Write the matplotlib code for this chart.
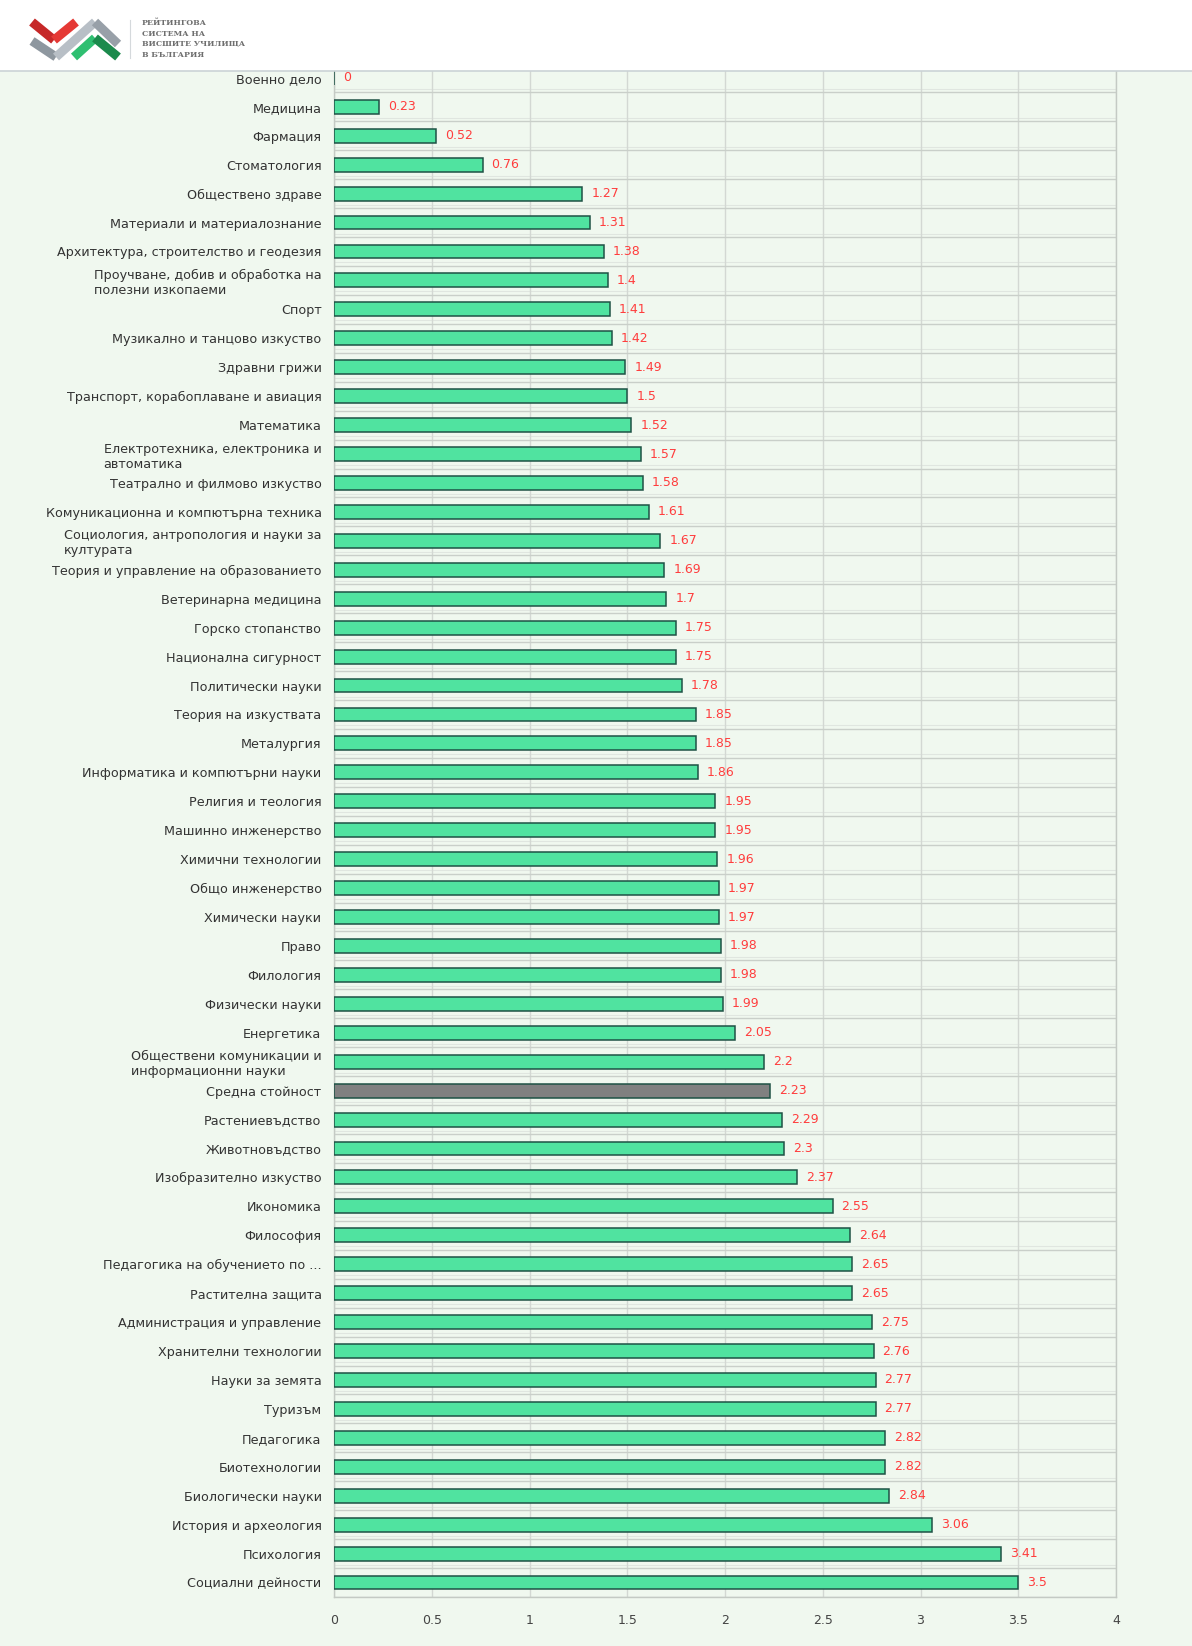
import matplotlib
matplotlib.use('Agg')
from matplotlib import pyplot as plt
from matplotlib.ticker import FixedLocator

# data
categories = [
    'Военно дело', 'Медицина', 'Фармация', 'Стоматология', 'Обществено здраве',
    'Материали и материалознание', 'Архитектура, строителство и геодезия',
    'Проучване, добив и обработка на\nполезни изкопаеми', 'Спорт',
    'Музикално и танцово изкуство', 'Здравни грижи',
    'Транспорт, корабоплаване и авиация', 'Математика',
    'Електротехника, електроника и\nавтоматика', 'Театрално и филмово изкуство',
    'Комуникационна и компютърна техника',
    'Социология, антропология и науки за\nкултурата',
    'Теория и управление на образованието', 'Ветеринарна медицина',
    'Горско стопанство', 'Национална сигурност', 'Политически науки',
    'Теория на изкуствата', 'Металургия', 'Информатика и компютърни науки',
    'Религия и теология', 'Машинно инженерство', 'Химични технологии',
    'Общо инженерство', 'Химически науки', 'Право', 'Филология',
    'Физически науки', 'Енергетика',
    'Обществени комуникации и\nинформационни науки', 'Средна стойност',
    'Растениевъдство', 'Животновъдство', 'Изобразително изкуство', 'Икономика',
    'Философия', 'Педагогика на обучението по ...', 'Растителна защита',
    'Администрация и управление', 'Хранителни технологии', 'Науки за земята',
    'Туризъм', 'Педагогика', 'Биотехнологии', 'Биологически науки',
    'История и археология', 'Психология', 'Социални дейности',
]
values = [
    0, 0.23, 0.52, 0.76, 1.27, 1.31, 1.38, 1.4, 1.41, 1.42, 1.49, 1.5, 1.52,
    1.57, 1.58, 1.61, 1.67, 1.69, 1.7, 1.75, 1.75, 1.78, 1.85, 1.85, 1.86,
    1.95, 1.95, 1.96, 1.97, 1.97, 1.98, 1.98, 1.99, 2.05, 2.2, 2.23, 2.29,
    2.3, 2.37, 2.55, 2.64, 2.65, 2.65, 2.75, 2.76, 2.77, 2.77, 2.82, 2.82,
    2.84, 3.06, 3.41, 3.5,
]
average_label = 'Средна стойност'
x_ticks = [0, 0.5, 1, 1.5, 2, 2.5, 3, 3.5, 4]
x_tick_labels = ['0', '0.5', '1', '1.5', '2', '2.5', '3', '3.5', '4']
logo_lines = ['РЕЙТИНГОВА', 'СИСТЕМА НА', 'ВИСШИТЕ УЧИЛИЩА', 'В БЪЛГАРИЯ']

W, H = 1192, 1646
bg = '#f0f8ef'
plt.rcParams['font.family'] = ['DejaVu Sans']

fig = plt.figure(figsize=(W / 100, H / 100), dpi=100, facecolor=bg)

# main chart, top part hidden under the header like in the page
left, right, top, bottom = 334, 1116, 63.4, 1597
ax = fig.add_axes([left / W, 1 - bottom / H, (right - left) / W, (bottom - top) / H])
ax.set_facecolor(bg)

n = len(categories)
ypos = list(range(n))
colors = ['#808080' if c == average_label else '#50e3a0' for c in categories]
ax.barh(ypos, values, height=0.48, color=colors, edgecolor='#1e5245',
        linewidth=1.1, zorder=3)

for i, v in enumerate(values):
    ax.annotate(f'{v:g}', xy=(v, i), xytext=(6.5, 0), textcoords='offset points',
                ha='left', va='center', color='#ff3d3d', fontsize=9)

ax.set_xlim(0, 4)
ax.set_ylim(n - 0.5, -0.5)
ax.set_yticks(ypos)
ax.set_yticklabels(categories, fontsize=9.2, color='#333333', multialignment='left')
ax.set_xticks(x_ticks)
ax.set_xticklabels(x_tick_labels, fontsize=9, color='#444444')
ax.tick_params(axis='y', length=0, pad=9)
ax.tick_params(axis='x', length=0, pad=12)

# row separators and vertical grid
ax.yaxis.set_minor_locator(FixedLocator([k + 0.5 for k in range(n)]))
ax.tick_params(axis='y', which='minor', length=0)
ax.grid(axis='y', which='minor', color='#c9cfc9', linewidth=1, zorder=0)
ax.grid(axis='x', which='major', color='#d3d8d3', linewidth=1, zorder=0)
for k in range(n - 1):
    ax.axhline(k + 0.38, color='#e0e6e0', linewidth=0.8, zorder=0)

ax.spines['top'].set_visible(False)
for side in ['left', 'right', 'bottom']:
    ax.spines[side].set_color('#c4cac4')
    ax.spines[side].set_linewidth(1)

# white header with logo
hdr = 71
hx = fig.add_axes([0, 1 - hdr / H, 1, hdr / H], zorder=10)
hx.set_facecolor('white')
hx.set_xlim(0, W)
hx.set_ylim(hdr, 0)
for s in hx.spines.values():
    s.set_visible(False)
hx.spines['bottom'].set_visible(True)
hx.spines['bottom'].set_color('#cbd3d6')
hx.spines['bottom'].set_linewidth(1.2)
hx.set_xticks([])
hx.set_yticks([])

lw = 6.5
hx.plot([32, 54], [22, 40], color='#c62828', lw=lw, solid_capstyle='butt')
hx.plot([54, 76], [40, 22], color='#e53935', lw=lw, solid_capstyle='butt')
hx.plot([32, 56], [41, 57], color='#8e979f', lw=lw, solid_capstyle='butt')
hx.plot([56, 95], [57, 22], color='#b8bfc6', lw=lw, solid_capstyle='butt')
hx.plot([95, 118], [22, 44], color='#98a0a8', lw=lw, solid_capstyle='butt')
hx.plot([74, 95], [57, 38], color='#2fbf71', lw=lw, solid_capstyle='butt')
hx.plot([95, 118], [38, 57], color='#1b8a4c', lw=lw, solid_capstyle='butt')
hx.plot([130, 130], [20, 58], color='#d5d9dc', lw=0.8)
for i, t in enumerate(logo_lines):
    hx.text(142, 23 + i * 10.6, t, fontsize=5.6, fontweight='bold',
            family='DejaVu Serif', color='#6e6e6e', va='center', ha='left')

fig.savefig('out.png', dpi=100, facecolor=bg)
